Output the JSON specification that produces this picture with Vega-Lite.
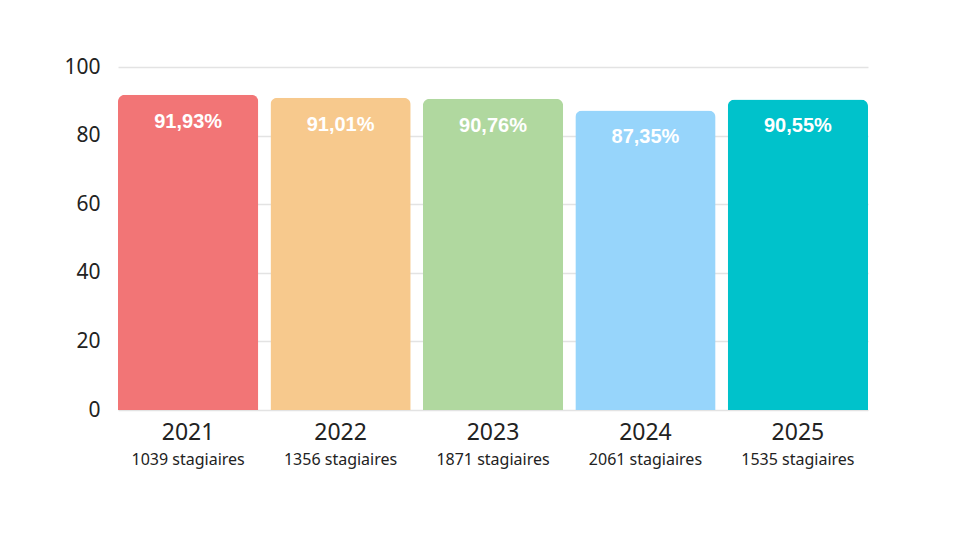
{
  "$schema": "https://vega.github.io/schema/vega-lite/v6.json",
  "autosize": "none",
  "width": 750,
  "height": 343,
  "padding": {"left": 118, "top": 67, "right": 92, "bottom": 130},
  "background": "white",
  "data": {
    "values": [
      {"annee": "2021", "taux": 91.93, "label": "91,93%", "stagiaires": "1039 stagiaires", "couleur": "#F27576"},
      {"annee": "2022", "taux": 91.01, "label": "91,01%", "stagiaires": "1356 stagiaires", "couleur": "#F7C98D"},
      {"annee": "2023", "taux": 90.76, "label": "90,76%", "stagiaires": "1871 stagiaires", "couleur": "#B0D89F"},
      {"annee": "2024", "taux": 87.35, "label": "87,35%", "stagiaires": "2061 stagiaires", "couleur": "#97D5FB"},
      {"annee": "2025", "taux": 90.55, "label": "90,55%", "stagiaires": "1535 stagiaires", "couleur": "#00C2CB"}
    ]
  },
  "config": {
    "view": {"stroke": null},
    "axis": {"labelFont": "Noto Sans", "labelColor": "#222222", "domain": false, "ticks": false}
  },
  "encoding": {
    "x": {
      "field": "annee",
      "type": "nominal",
      "sort": null,
      "scale": {"paddingInner": 0.08, "paddingOuter": 0},
      "axis": {"title": null, "labelAngle": 0, "labelFontSize": 23, "labelPadding": 11, "labelBaseline": "top", "grid": false}
    }
  },
  "layer": [
    {
      "mark": {"type": "bar", "cornerRadiusTopLeft": 7, "cornerRadiusTopRight": 7},
      "encoding": {
        "y": {
          "field": "taux",
          "type": "quantitative",
          "scale": {"domain": [0, 100]},
          "axis": {"title": null, "values": [0, 20, 40, 60, 80, 100], "labelFontSize": 21, "labelPadding": 18, "gridColor": "#e3e3e3", "gridWidth": 1.5}
        },
        "color": {"field": "couleur", "type": "nominal", "scale": null}
      }
    },
    {
      "mark": {"type": "text", "font": "Liberation Sans", "fontWeight": "bold", "fontSize": 20, "color": "white", "baseline": "middle", "dy": 27},
      "encoding": {
        "y": {"field": "taux", "type": "quantitative"},
        "text": {"field": "label"}
      }
    },
    {
      "mark": {"type": "text", "font": "Noto Sans", "fontSize": 16, "color": "#222222", "baseline": "middle", "dy": 50},
      "encoding": {
        "y": {"datum": 0},
        "text": {"field": "stagiaires"}
      }
    }
  ]
}
